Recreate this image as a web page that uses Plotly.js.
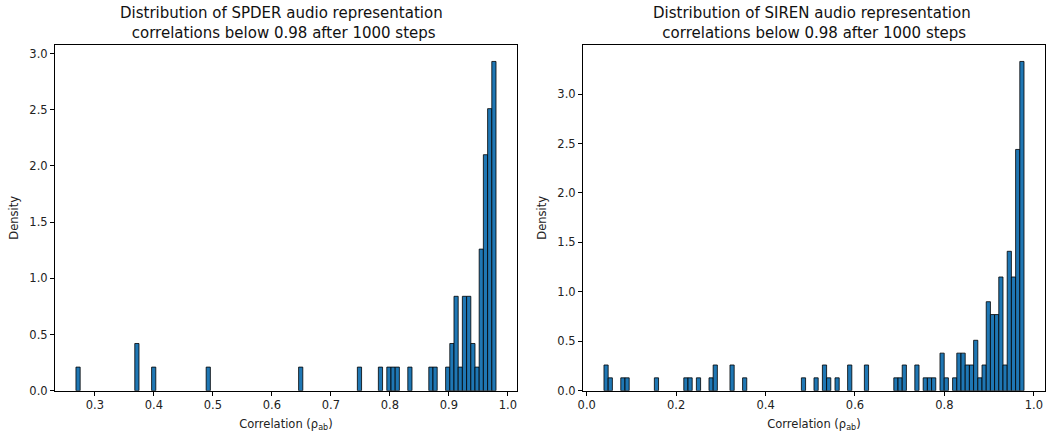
<!DOCTYPE html>
<html>
<head>
<meta charset="utf-8">
<script src="https://cdn.plot.ly/plotly-3.0.1.min.js"></script>
<style>
  html, body { margin: 0; padding: 0; background: #fff; }
  #chart { width: 1047px; height: 433px; }
</style>
</head>
<body>
<div id="chart"></div>
<script>
// SPDER: 100-bin histogram over [0.268, 0.98]; non-empty bins only
const spderBinWidth = 0.00712;
const spderBinStart = [0.2680, 0.3677, 0.3962, 0.4887, 0.6454, 0.7450, 0.7806, 0.7949, 0.8020,
  0.8091, 0.8305, 0.8661, 0.8732, 0.8946, 0.9017, 0.9088, 0.9159, 0.9230, 0.9302, 0.9373,
  0.9444, 0.9515, 0.9586, 0.9658, 0.9729];
const spderDensity = [0.21, 0.42, 0.21, 0.21, 0.21, 0.21, 0.21, 0.21, 0.21,
  0.21, 0.21, 0.21, 0.21, 0.21, 0.42, 0.84, 0.21, 0.84, 0.84, 0.42,
  0.21, 1.26, 2.10, 2.51, 2.93];

// SIREN: 100-bin histogram over [0.0386, 0.978]; non-empty bins only
const sirenBinWidth = 0.009394;
const sirenBinStart = [0.0386, 0.0480, 0.0762, 0.0856, 0.1513, 0.2171, 0.2265, 0.2453, 0.2735,
  0.2828, 0.3204, 0.3486, 0.4801, 0.5083, 0.5271, 0.5365, 0.5553, 0.5835, 0.6210,
  0.6868, 0.6962, 0.7056, 0.7338, 0.7525, 0.7619, 0.7713, 0.7901, 0.7995, 0.8183,
  0.8277, 0.8371, 0.8465, 0.8559, 0.8653, 0.8747, 0.8841, 0.8935, 0.9028, 0.9122,
  0.9216, 0.9310, 0.9404, 0.9498, 0.9592, 0.9686];
const sirenDensity = [0.26, 0.13, 0.13, 0.13, 0.13, 0.13, 0.13, 0.13, 0.13,
  0.26, 0.26, 0.13, 0.13, 0.13, 0.26, 0.13, 0.13, 0.26, 0.26,
  0.13, 0.13, 0.26, 0.26, 0.13, 0.13, 0.13, 0.38, 0.13, 0.13,
  0.38, 0.38, 0.26, 0.26, 0.51, 0.13, 0.26, 0.90, 0.77, 0.77,
  1.15, 0.26, 1.41, 1.15, 2.44, 3.33];

const spderTicks = [0.3, 0.4, 0.5, 0.6, 0.7, 0.8, 0.9, 1.0];
const sirenTicks = [0.0, 0.2, 0.4, 0.6, 0.8, 1.0];
const densityTicks = [0.0, 0.5, 1.0, 1.5, 2.0, 2.5, 3.0];

const titles = [
  'Distribution of SPDER audio representation<br> correlations below 0.98 after 1000 steps',
  'Distribution of SIREN audio representation<br> correlations below 0.98 after 1000 steps'
];
const xLabel = 'Correlation (ρ<sub>ab</sub>)';
const yLabel = 'Density';

const FONT = 'DejaVu Sans, sans-serif';
const barStyle = { color: '#1f77b4', line: { color: '#000000', width: 0.8 } };

// matplotlib-style 5% padding around the data extent
function padded(lo, hi) {
  const m = (hi - lo) * 0.05;
  return [lo - m, hi + m];
}

const traces = [
  { type: 'bar', x: spderBinStart, y: spderDensity, width: spderBinWidth, offset: 0,
    marker: barStyle, xaxis: 'x', yaxis: 'y', hoverinfo: 'skip' },
  { type: 'bar', x: sirenBinStart, y: sirenDensity, width: sirenBinWidth, offset: 0,
    marker: barStyle, xaxis: 'x2', yaxis: 'y2', hoverinfo: 'skip' }
];

const spderLo = spderBinStart[0];
const spderHi = spderBinStart[spderBinStart.length - 1] + spderBinWidth;
const sirenLo = sirenBinStart[0];
const sirenHi = sirenBinStart[sirenBinStart.length - 1] + sirenBinWidth;

function xAxis(domain, range, ticks, anchor) {
  return {
    domain: domain, range: range, anchor: anchor,
    tickmode: 'array', tickvals: ticks, ticktext: ticks.map(v => v.toFixed(1)),
    ticks: 'outside', ticklen: 4, tickwidth: 1, tickcolor: '#000',
    showline: true, linecolor: '#000', linewidth: 1, mirror: true,
    showgrid: false, zeroline: false,
    tickfont: { family: FONT, size: 11.5, color: '#222' },
    title: { text: xLabel, font: { family: FONT, size: 11.5, color: '#222' }, standoff: 8 }
  };
}
function yAxis(range, anchor) {
  return {
    domain: [0.0977, 0.8961], range: range, anchor: anchor,
    tickmode: 'array', tickvals: densityTicks, ticktext: densityTicks.map(v => v.toFixed(1)),
    ticks: 'outside', ticklen: 4, tickwidth: 1, tickcolor: '#000',
    showline: true, linecolor: '#000', linewidth: 1, mirror: true,
    showgrid: false, zeroline: false,
    tickfont: { family: FONT, size: 11.5, color: '#222' },
    title: { text: yLabel, font: { family: FONT, size: 11.5, color: '#222' }, standoff: 8 }
  };
}

const spderTop = Math.max(...spderDensity) * 1.05;
const sirenTop = Math.max(...sirenDensity) * 1.05;

const layout = {
  width: 1047, height: 433,
  margin: { l: 0, r: 0, t: 0, b: 0 },
  paper_bgcolor: '#fff', plot_bgcolor: '#fff',
  showlegend: false, hovermode: false, bargap: 0,
  xaxis: xAxis([0.0525, 0.4938], padded(spderLo, spderHi), spderTicks, 'y'),
  yaxis: yAxis([0, spderTop], 'x'),
  xaxis2: xAxis([0.5568, 0.9981], padded(sirenLo, sirenHi), sirenTicks, 'y2'),
  yaxis2: yAxis([0, sirenTop], 'x2'),
  annotations: [
    { text: titles[0], xref: 'x domain', yref: 'paper', x: 0.49, y: 1 - 2 / 433,
      xanchor: 'center', yanchor: 'top', showarrow: false, align: 'center',
      font: { family: FONT, size: 15, color: '#111' } },
    { text: titles[1], xref: 'x2 domain', yref: 'paper', x: 0.495, y: 1 - 2 / 433,
      xanchor: 'center', yanchor: 'top', showarrow: false, align: 'center',
      font: { family: FONT, size: 15, color: '#111' } }
  ]
};

Plotly.newPlot('chart', traces, layout, { staticPlot: true, displayModeBar: false });
</script>
</body>
</html>
